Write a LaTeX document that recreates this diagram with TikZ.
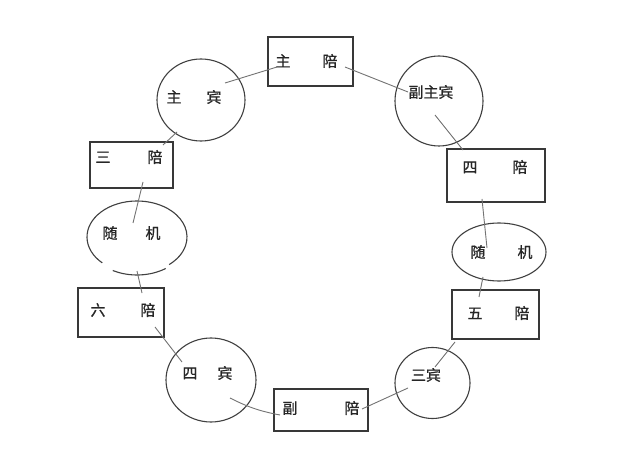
\documentclass[tikz,border=0pt]{standalone}
\usepackage{fontspec}
\newfontfamily\cjk{Noto Sans CJK SC}[FakeBold=0.8]
\usetikzlibrary{shapes.geometric}
\definecolor{boxc}{HTML}{383838}
\definecolor{ringc}{HTML}{404040}
\definecolor{linkc}{HTML}{737373}
\definecolor{txtc}{HTML}{262626}
\begin{document}
\begin{tikzpicture}[x=1pt,y=-1pt,
  stbox/.style={draw=boxc, line width=1.4pt, inner sep=0pt, rectangle},
  ring/.style={draw=ringc, line width=1.1pt, ellipse, inner sep=0pt},
  ringline/.style={draw=ringc, line width=1.1pt},
  link/.style={draw=linkc, line width=0.9pt},
  lbl/.style={font=\cjk\fontsize{15}{17}\selectfont, text=txtc, inner sep=0pt}]
\useasboundingbox[fill=white] (0,0) rectangle (640,465);

% boxes
\node[stbox, minimum width=85pt, minimum height=49pt] (zhupei) at (310.5,61.5) {};
\node[stbox, minimum width=83pt, minimum height=46pt] (sanpei) at (131.5,165) {};
\node[stbox, minimum width=98pt, minimum height=53pt] (sipei) at (496,175.5) {};
\node[stbox, minimum width=86pt, minimum height=49pt] (liupei) at (121,312.5) {};
\node[stbox, minimum width=87pt, minimum height=49pt] (wupei) at (495.5,314.5) {};
\node[stbox, minimum width=94pt, minimum height=42pt] (fupei) at (321,410) {};

% circles / ellipses
\node[ring, minimum width=88pt, minimum height=82pt] (zhubin) at (201,100) {};
\node[ring, minimum width=88pt, minimum height=90pt] (fuzhubin) at (439,101) {};
\node[ellipse, inner sep=0pt, minimum width=100pt, minimum height=72pt] (suiL) at (137,237) {};
\draw[ringline] (suiL.center) ++(134:50 and 36) arc[start angle=134, end angle=410, x radius=50, y radius=36];
\draw[ringline] (suiL.center) ++(0,2) ++(55:50 and 36) arc[start angle=55, end angle=119, x radius=50, y radius=36];
\node[ring, minimum width=94pt, minimum height=58pt] (suiR) at (499,252) {};
\node[ring, minimum width=90pt, minimum height=84pt] (sibin) at (211,380) {};
\node[ring, minimum width=75pt, minimum height=71pt] (sanbin) at (432.5,383) {};

% labels
\node[lbl] (tzhupei) at (306.5,61) {主\hspace{32pt}陪};
\node[lbl] (tzhubin) at (194,97) {主\hspace{25pt}宾};
\node[lbl] (tfuzhubin) at (431,92) {副主宾};
\node[lbl] (tsanpei) at (129,157) {三\hspace{37pt}陪};
\node[lbl] (tsipei) at (495,167) {四\hspace{35pt}陪};
\node[lbl] (tsuiL) at (131.5,233) {随\hspace{28pt}机};
\node[lbl] (tsuiR) at (501.5,252) {随\hspace{32pt}机};
\node[lbl] (tliupei) at (123,310) {六\hspace{35pt}陪};
\node[lbl] (twupei) at (498.5,313) {五\hspace{32pt}陪};
\node[lbl] (tsibin) at (207.5,373) {四\hspace{20pt}宾};
\node[lbl] (tsanbin) at (426,375) {三宾};
\node[lbl] (tfupei) at (321,408) {副\hspace{47pt}陪};

% connector end points
\coordinate (a1) at (225,83);  \coordinate (b1) at (277,67);
\coordinate (a2) at (345,67);  \coordinate (b2) at (408,92);
\coordinate (a3) at (435,115); \coordinate (b3) at (463,150);
\coordinate (a4) at (482,199); \coordinate (b4) at (487,248);
\coordinate (a5) at (483,277); \coordinate (b5) at (479,297);
\coordinate (a6) at (455,342); \coordinate (b6) at (435,367);
\coordinate (a7) at (408,388); \coordinate (b7) at (362,409);
\coordinate (a8) at (280,415); \coordinate (b8) at (230,398);
\coordinate (a9) at (182,362); \coordinate (b9) at (155,327);
\coordinate (a10) at (142,293); \coordinate (b10) at (137,271);
\coordinate (a11) at (133,223); \coordinate (b11) at (143,182);
\coordinate (a12) at (163,145); \coordinate (b12) at (177,132);

\draw[link] (a1) -- (b1);
\draw[link] (a2) -- (b2);
\draw[link] (a3) -- (b3);
\draw[link] (a4) -- (b4);
\draw[link] (a5) -- (b5);
\draw[link] (a6) -- (b6);
\draw[link] (a7) -- (b7);
\draw[link] (a8) to[bend left=8] (b8);
\draw[link] (a9) -- (b9);
\draw[link] (a10) -- (b10);
\draw[link] (a11) -- (b11);
\draw[link] (a12) -- (b12);
\end{tikzpicture}
\end{document}
